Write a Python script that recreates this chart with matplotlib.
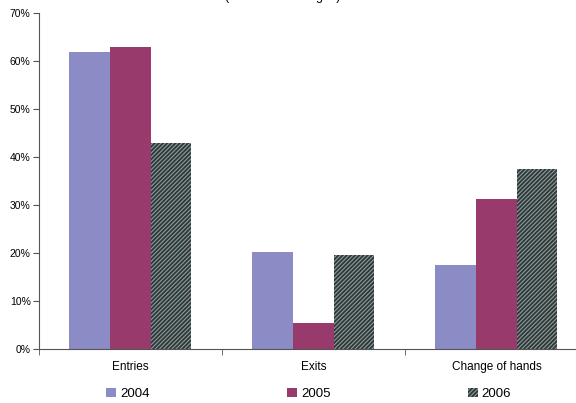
import matplotlib.pyplot as plt
import numpy as np

plt.rcParams['font.family'] = ['Liberation Sans', 'DejaVu Sans']
plt.rcParams['hatch.linewidth'] = 0.8

categories = ['Entries', 'Exits', 'Change of hands']
years = ['2004', '2005', '2006']
values = {
    '2004': [61.9, 20.2, 17.5],
    '2005': [62.9, 5.4, 31.3],
    '2006': [42.9, 19.6, 37.5],
}
colors = {'2004': '#8B8BC5', '2005': '#993A6C', '2006': '#2E3838'}
y_ticks = [0, 10, 20, 30, 40, 50, 60, 70]

fig = plt.figure(figsize=(5.76, 4.03), dpi=100)
ax = fig.add_axes([0.0677, 0.134, 0.953, 0.834])

x = np.arange(len(categories))
width = 1 / 4.5
for i, year in enumerate(years):
    offset = (i - 1) * width
    if year == '2006':
        ax.bar(x + offset, values[year], width, label=year,
               facecolor=colors[year], edgecolor='#8E9C9C', hatch='////////',
               linewidth=0)
    else:
        ax.bar(x + offset, values[year], width, label=year,
               color=colors[year], linewidth=0)

ax.set_xlim(-0.5, len(categories) - 0.5)
ax.set_ylim(0, 70)
ax.set_yticks(y_ticks)
ax.set_yticklabels(['{}%'.format(t) for t in y_ticks], fontsize=7.5)

# category labels centred, tick marks at category boundaries
ax.set_xticks(x)
ax.set_xticklabels(categories, fontsize=8.5)
ax.tick_params(axis='x', which='major', length=0, pad=9)
ax.set_xticks(np.arange(len(categories) + 1) - 0.5, minor=True)
ax.tick_params(axis='x', which='minor', length=4, direction='out',
               color='#555555')
ax.tick_params(axis='y', length=4, direction='out', color='#555555', pad=2)

for side in ['top', 'right']:
    ax.spines[side].set_visible(False)
for side in ['left', 'bottom']:
    ax.spines[side].set_color('#555555')
    ax.spines[side].set_linewidth(0.8)

# title sits above the top edge, only its descenders show
fig.text(0.49, 1.0, '(number of changes)',
         ha='center', va='baseline', fontsize=9)

fig.legend(loc='center', bbox_to_anchor=(0.536, 0.023), ncol=3,
           frameon=False, fontsize=9.5, handlelength=0.75, handleheight=0.75,
           handletextpad=0.3, columnspacing=10.4)

fig.savefig('out.png', dpi=100)
